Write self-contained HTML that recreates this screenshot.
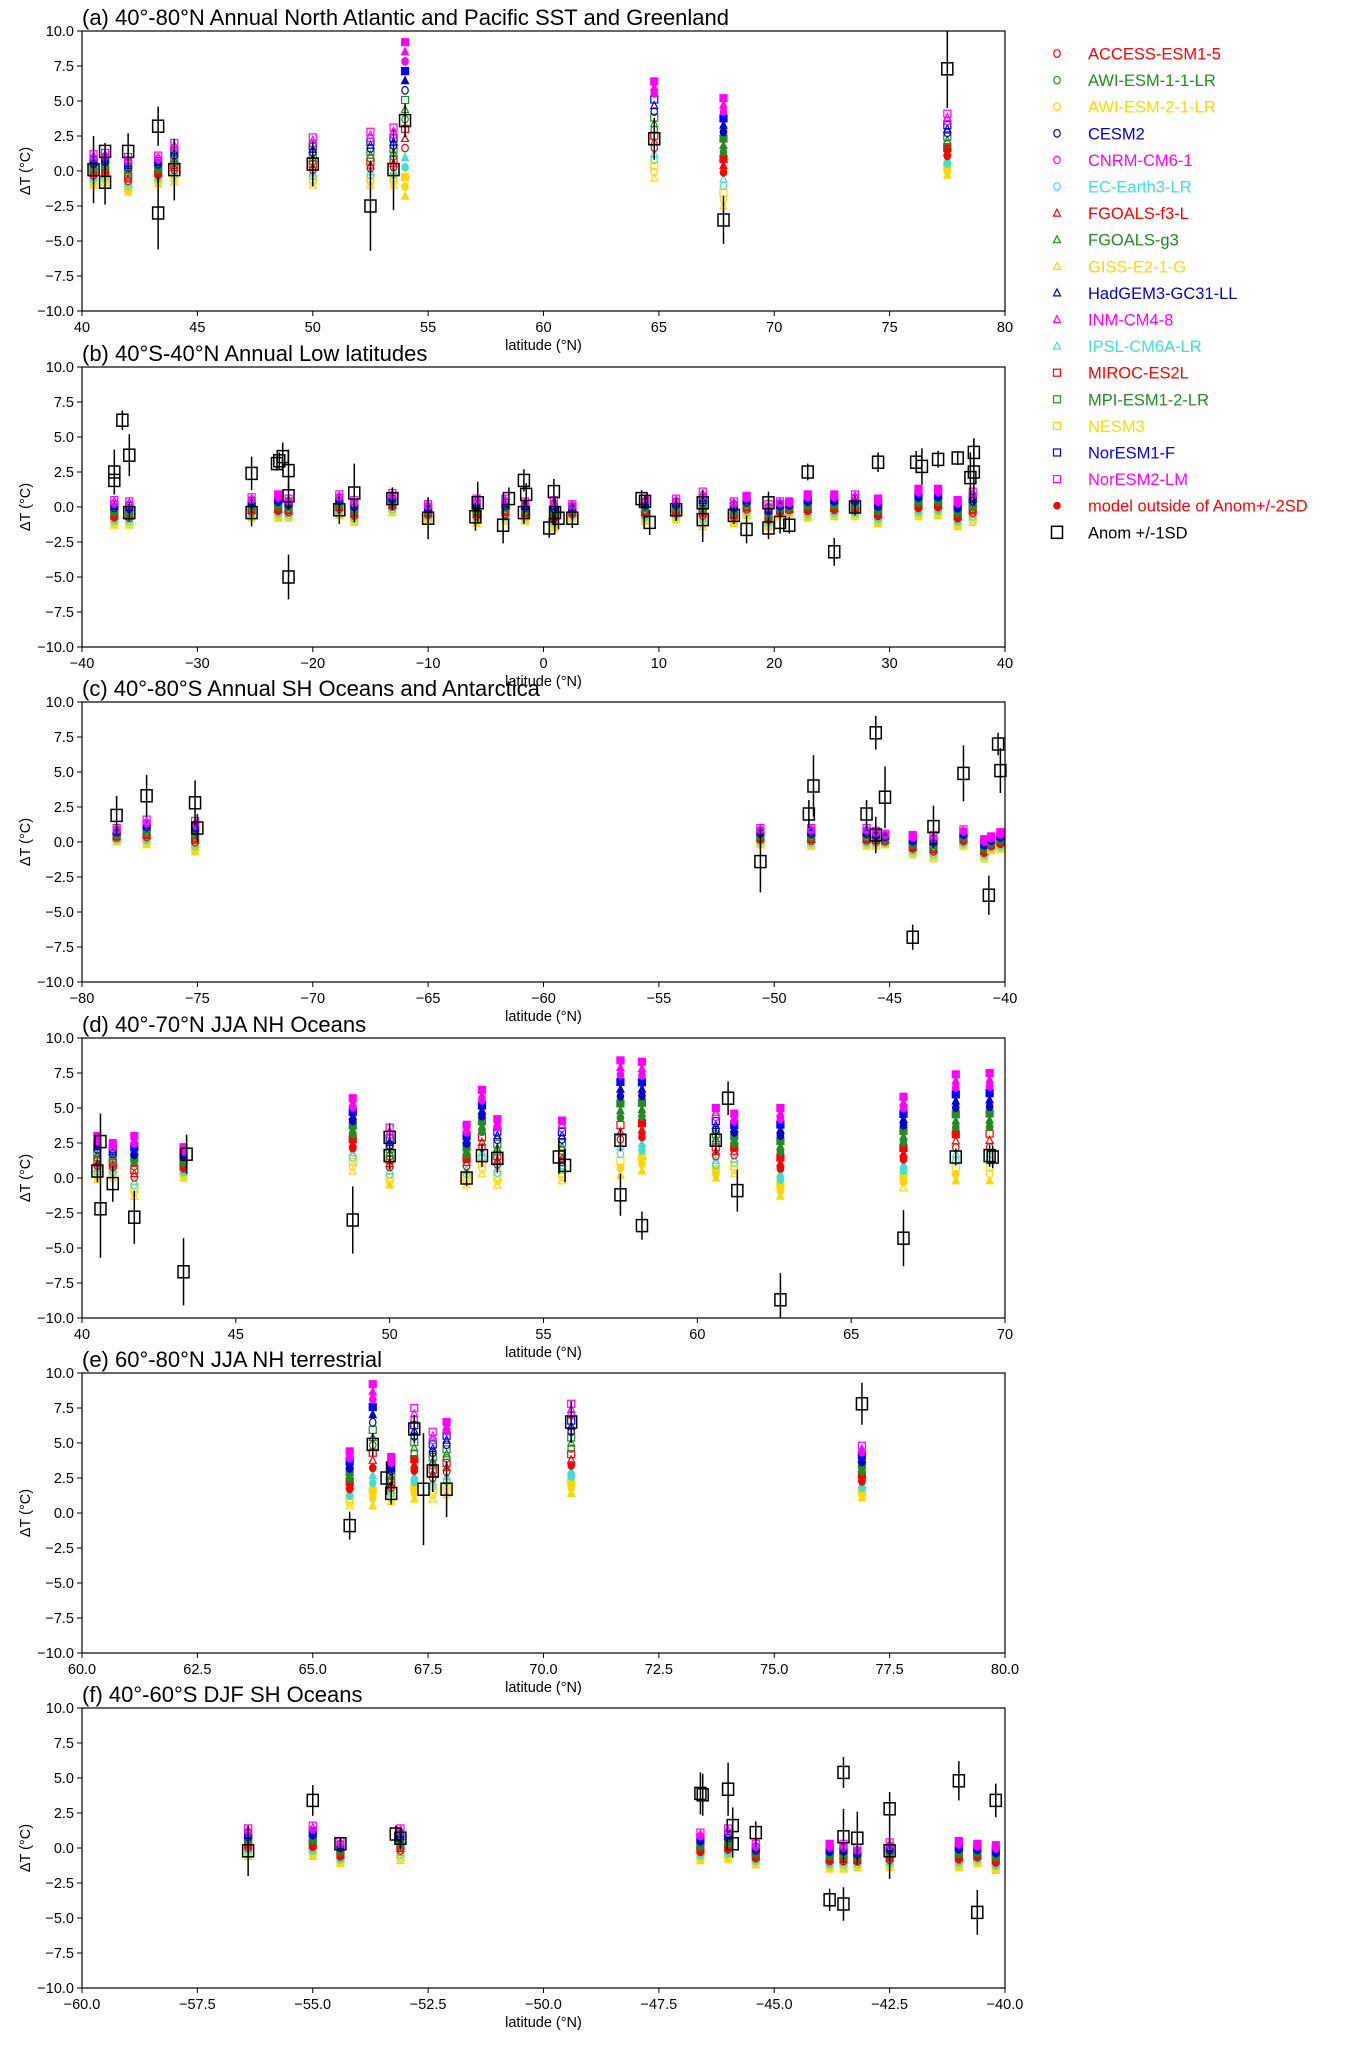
<!DOCTYPE html>
<html><head><meta charset="utf-8"><style>
body{margin:0;background:#fff;width:1355px;height:2042px;overflow:hidden}
svg{font-family:"Liberation Sans",sans-serif}
</style></head><body>
<svg id="fig" width="1355" height="2042" xmlns="http://www.w3.org/2000/svg"></svg>
<script>
// ---- data ----
const modelNames=["ACCESS-ESM1-5","AWI-ESM-1-1-LR","AWI-ESM-2-1-LR","CESM2","CNRM-CM6-1","EC-Earth3-LR","FGOALS-f3-L","FGOALS-g3","GISS-E2-1-G","HadGEM3-GC31-LL","INM-CM4-8","IPSL-CM6A-LR","MIROC-ES2L","MPI-ESM1-2-LR","NESM3","NorESM1-F","NorESM2-LM"];
const modelColors=["#ff0000","#228b22","#ffd700","#0000cd","#ff00ff","#40e0d0","#ff0000","#228b22","#ffd700","#0000cd","#ff00ff","#40e0d0","#ff0000","#228b22","#ffd700","#0000ff","#ff00ff"];
const modelShapes=["o","o","o","o","o","o","t","t","t","t","t","t","s","s","s","s","s"];
const panelTitles=["(a) 40°-80°N Annual North Atlantic and Pacific SST and Greenland","(b) 40°S-40°N Annual Low latitudes","(c) 40°-80°S Annual SH Oceans and Antarctica","(d) 40°-70°N JJA NH Oceans","(e) 60°-80°N JJA NH terrestrial","(f) 40°-60°S DJF SH Oceans"];
const panelXmin=[40,-40,-80,40,60,-60];
const panelXmax=[80,40,-40,70,80,-40];
const panelXstep=[5,10,5,5,2.5,2.5];
const yTicks=[-10,-7.5,-5,-2.5,0,2.5,5,7.5,10];
// proxies: [lat, anom, sd]
const proxA=[[40.5,0.1,2.4],[41.0,1.4,0.6],[41.0,-0.8,1.6],[42.0,1.4,1.3],[43.3,3.2,1.4],[43.3,-3.0,2.6],[44.0,0.1,2.2],[50.0,0.5,1.6],[52.5,-2.5,3.2],[53.5,0.1,2.9],[54.0,3.6,1.2],[64.8,2.3,1.5],[67.8,-3.5,1.7],[77.5,7.3,2.8]];
const modA=[[40.5,-1.0,1.2],[41.0,-0.8,1.3],[42.0,-1.5,1.0],[43.3,-0.9,1.1],[44.0,-0.8,2.0],[50.0,-1.0,2.4],[52.5,-1.0,2.8],[53.5,-1.0,3.1],[54.0,-1.8,9.2],[64.8,-0.5,6.4],[67.8,-2.5,5.2],[77.5,-0.3,4.1]];
const proxB=[[-37.2,2.5,1.6],[-37.2,1.9,1.0],[-36.5,6.2,0.7],[-35.9,3.7,1.5],[-35.9,-0.4,0.6],[-25.3,2.4,1.2],[-25.3,-0.4,1.0],[-23.1,3.1,0.5],[-22.9,3.3,0.6],[-22.6,3.6,1.0],[-22.1,2.6,1.5],[-22.1,0.8,1.0],[-22.1,-5.0,1.6],[-17.7,-0.2,1.0],[-16.4,1.0,2.1],[-13.1,0.6,0.8],[-10.0,-0.8,1.5],[-5.9,-0.7,1.0],[-5.7,0.3,1.5],[-3.5,-1.3,1.3],[-3.0,0.6,0.8],[-1.7,1.9,0.8],[-1.5,0.9,0.8],[-1.7,-0.4,0.8],[0.5,-1.5,0.7],[0.9,1.1,0.9],[1.3,-0.8,0.8],[1.0,-0.4,1.0],[2.5,-0.8,0.7],[8.5,0.6,0.6],[8.8,0.4,0.5],[9.2,-1.1,0.9],[11.5,-0.2,0.8],[13.8,0.3,0.9],[13.8,-0.9,1.6],[16.5,-0.6,0.6],[17.6,-1.6,1.0],[19.5,0.3,0.8],[19.5,-1.5,0.8],[20.5,-1.1,0.8],[21.3,-1.3,0.6],[22.9,2.5,0.6],[25.2,-3.2,1.0],[27.0,0.0,0.6],[29.0,3.2,0.7],[32.3,3.2,0.8],[32.8,2.9,1.3],[34.2,3.4,0.6],[35.9,3.5,0.5],[37.0,2.1,1.8],[37.3,3.9,1.0],[37.3,2.5,2.4]];
const modB=[[-37.2,-1.3,0.5],[-35.9,-1.3,0.4],[-25.3,-0.8,0.7],[-23.0,-0.8,0.9],[-22.1,-0.8,0.6],[-17.7,-0.6,0.9],[-16.4,-1.1,0.5],[-13.1,-0.4,1.0],[-10.0,-0.9,0.2],[-5.8,-1.2,0.6],[-3.3,-1.0,0.6],[-1.6,-1.0,0.4],[0.9,-1.5,0.5],[2.5,-0.8,0.2],[8.8,-1.0,0.6],[11.5,-0.9,0.6],[13.8,-1.4,1.1],[16.5,-1.2,0.4],[17.6,-0.6,0.8],[19.5,-1.4,0.2],[20.5,-0.7,0.4],[21.3,-0.5,0.4],[22.9,-0.8,0.9],[25.2,-0.7,0.9],[27.0,-0.7,0.9],[29.0,-1.2,0.6],[32.5,-0.7,1.3],[34.2,-0.6,1.3],[35.9,-1.4,0.5],[37.2,-1.1,1.1]];
const proxC=[[-78.5,1.9,1.4],[-77.2,3.3,1.5],[-75.1,2.8,1.6],[-75.0,1.0,1.0],[-50.6,-1.4,2.2],[-48.5,2.0,1.0],[-48.3,4.0,2.2],[-46.0,2.0,1.0],[-45.6,7.8,1.2],[-45.6,0.5,1.3],[-45.2,3.2,2.2],[-44.0,-6.8,0.9],[-43.1,1.1,1.5],[-41.8,4.9,2.0],[-40.7,-3.8,1.4],[-40.3,7.0,0.8],[-40.2,5.1,1.6]];
const modC=[[-78.5,0.0,1.0],[-77.2,-0.2,1.6],[-75.1,-0.7,1.5],[-50.6,-0.2,1.0],[-48.4,-0.3,1.0],[-46.0,-0.3,1.0],[-45.6,-0.3,0.8],[-45.2,-0.2,0.6],[-44.0,-0.9,0.5],[-43.1,-1.2,0.5],[-41.8,-0.3,0.9],[-40.9,-1.2,0.2],[-40.6,-0.6,0.4],[-40.2,-0.5,0.7]];
const proxD=[[40.6,2.6,2.0],[40.6,-2.2,3.5],[40.5,0.5,0.8],[41.0,-0.4,1.3],[41.7,-2.8,1.9],[43.3,-6.7,2.4],[43.4,1.7,1.4],[48.8,-3.0,2.4],[50.0,2.9,1.0],[50.0,1.6,1.0],[52.5,0.0,0.6],[53.0,1.6,0.8],[53.5,1.4,1.0],[55.5,1.5,1.2],[55.7,0.9,1.2],[57.5,2.7,0.8],[57.5,-1.2,1.5],[58.2,-3.4,1.0],[60.6,2.7,1.0],[61.0,5.7,1.2],[61.3,-0.9,1.5],[62.7,-8.7,1.9],[66.7,-4.3,2.0],[68.4,1.5,0.6],[69.5,1.6,0.8],[69.6,1.5,0.8]];
const modD=[[40.5,-0.1,3.0],[41.0,0.0,2.5],[41.7,-1.3,3.0],[43.3,0.0,2.2],[48.8,0.5,5.7],[50.0,-0.5,3.6],[52.5,-0.5,3.8],[53.0,0.3,6.3],[53.5,-0.5,4.2],[55.6,-0.2,4.1],[57.5,0.2,8.4],[58.2,0.5,8.3],[60.6,0.0,5.0],[61.2,0.3,4.6],[62.7,-1.3,5.0],[66.7,-0.7,5.8],[68.4,-0.2,7.4],[69.5,-0.2,7.5]];
const proxE=[[65.8,-0.9,1.0],[66.3,4.9,0.8],[66.6,2.5,1.2],[66.7,1.4,0.8],[67.2,6.0,1.0],[67.4,1.7,4.0],[67.6,3.0,1.5],[67.9,1.7,2.0],[70.6,6.5,1.5],[76.9,7.8,1.5]];
const modE=[[65.8,0.5,4.4],[66.3,0.5,9.2],[66.7,0.8,4.0],[67.2,1.0,7.5],[67.6,1.0,5.8],[67.9,1.3,6.5],[70.6,1.4,7.8],[76.9,1.1,4.8]];
const proxF=[[-56.4,-0.2,1.8],[-55.0,3.4,1.1],[-54.4,0.3,0.4],[-53.2,1.0,0.6],[-53.1,0.7,0.8],[-46.6,3.9,1.5],[-46.55,3.8,1.5],[-46.0,4.2,1.9],[-45.9,1.6,1.3],[-45.9,0.3,1.0],[-45.4,1.1,0.8],[-43.8,-3.7,0.8],[-43.5,5.4,1.1],[-43.5,0.8,2.0],[-43.5,-4.0,1.2],[-43.2,0.7,1.9],[-42.5,2.8,1.2],[-42.5,-0.2,2.0],[-41.0,4.8,1.4],[-40.6,-4.6,1.6],[-40.2,3.4,1.2]];
const modF=[[-56.4,-0.6,1.4],[-55.0,-0.6,1.6],[-54.4,-1.1,0.5],[-53.1,-0.9,1.4],[-46.6,-0.9,1.1],[-46.0,-0.8,1.4],[-45.4,-1.2,0.3],[-43.8,-1.5,0.3],[-43.5,-1.5,0.3],[-43.2,-1.4,0.0],[-42.5,-1.4,0.4],[-41.0,-1.4,0.5],[-40.6,-1.1,0.3],[-40.2,-1.6,0.2]];
const panelProx=[proxA,proxB,proxC,proxD,proxE,proxF];
const panelMod=[modA,modB,modC,modD,modE,modF];
// ---- layout ----
const NS="http://www.w3.org/2000/svg";
const svg=document.getElementById('fig');
const AX_L=82,AX_R=1005,AX_H=280;
const panelTops=[31,367,702,1038,1373,1708];
const panelNames=['panel-a','panel-b','panel-c','panel-d','panel-e','panel-f'];
const order=[8,2,14,5,11,0,6,12,1,7,13,3,9,15,4,10,16];
function mk(tag,attrs,parent){const e=document.createElementNS(NS,tag);for(const k in attrs)e.setAttribute(k,attrs[k]);(parent||svg).appendChild(e);return e;}
function fmt(v,dec){let s=dec?v.toFixed(1):String(Math.round(v));return s.replace('-','\u2212');}
function marker(g,shape,x,y,col,filled){
  const f=filled?col:'none';let e;
  if(shape==='o')e=mk('ellipse',{cx:x,cy:y,rx:3.2,ry:3.8,fill:f,stroke:col,'stroke-width':1.2},g);
  else if(shape==='t')e=mk('polygon',{points:`${x},${y-4} ${x-3.5},${y+3} ${x+3.5},${y+3}`,fill:f,stroke:col,'stroke-width':1.2},g);
  else e=mk('rect',{x:x-3.5,y:y-3.5,width:7,height:7,fill:f,stroke:col,'stroke-width':1.2},g);
  return e;
}
panelTops.forEach((top,p)=>{
  const g=mk('g',{});
  
  
  const xmin=panelXmin[p],xmax=panelXmax[p];
  const sx=v=>AX_L+(v-xmin)/(xmax-xmin)*(AX_R-AX_L);
  const sy=v=>top+(10-v)/20*AX_H;
  const t=mk('text',{x:AX_L,y:top-6,'font-size':22,fill:'#000'},g);t.textContent=panelTitles[p];
  
  
  yTicks.forEach(v=>{const y=sy(v);mk('line',{x1:AX_L-5,x2:AX_L,y1:y,y2:y,stroke:'#000','stroke-width':1},g);
    const l=mk('text',{x:AX_L-8,y:y+5,'font-size':14.5,'text-anchor':'end'},g);l.textContent=fmt(v,true);
    
    });
  const dec=panelXstep[p]%1!==0;
  for(let v=xmin;v<=xmax+1e-9;v+=panelXstep[p]){const x=sx(v);mk('line',{x1:x,x2:x,y1:top+AX_H,y2:top+AX_H+5,stroke:'#000','stroke-width':1},g);
    const l=mk('text',{x:x,y:top+AX_H+21,'font-size':14.5,'text-anchor':'middle'},g);l.textContent=fmt(v,dec);
    
    }
  const xl=mk('text',{x:(AX_L+AX_R)/2,y:top+AX_H+39,'font-size':14.5,'text-anchor':'middle'},g);xl.textContent='latitude (°N)';
  
  
  const yl=mk('text',{x:0,y:0,'font-size':14.5,'text-anchor':'middle',transform:`translate(30,${top+AX_H/2}) rotate(-90)`},g);yl.textContent='ΔT (°C)';
  
  
  const prox=panelProx[p];
  panelMod[p].forEach(m=>{
    const [lat,lo,hi]=m;
    let near=prox[0],bd=1e9;prox.forEach(q=>{const d=Math.abs(q[0]-lat)+Math.abs(q[1]-(lo+hi)/2)*0.01;if(d<bd){bd=d;near=q;}});
    order.forEach((mi,k)=>{
      const v=lo+(hi-lo)*k/(order.length-1);
      const out=Math.abs(v-near[1])>2*near[2];
      const e=marker(g,modelShapes[mi],sx(lat),sy(v),modelColors[mi],out);
      
      
    });
  });
  prox.forEach(q=>{
    const x=sx(q[0]);
    const eb=mk('line',{x1:x,x2:x,y1:Math.max(top,sy(q[1]+q[2])),y2:Math.min(top+AX_H,sy(q[1]-q[2])),stroke:'#000','stroke-width':1.5},g);
    
    
    const b=mk('rect',{x:x-5.5,y:sy(q[1])-6,width:11,height:12,fill:'none',stroke:'#000','stroke-width':1.5},g);
    
    
  });
  const fr=mk('rect',{x:AX_L,y:top,width:AX_R-AX_L,height:AX_H,fill:'none',stroke:'#000','stroke-width':1.2},g);
  
  
});
// legend
const lg=mk('g',{});


const LX=1057,LY=53.5,LS=26.6;
modelNames.forEach((n,i)=>{
  const y=LY+i*LS;
  const e=marker(lg,modelShapes[i],LX,y,modelColors[i],false);
  
  
  const t=mk('text',{x:1088,y:y+6,'font-size':16.5,fill:modelColors[i]},lg);t.textContent=n;
  
  
});
{const y=LY+17*LS;const c=mk('circle',{cx:LX,cy:y,r:3.8,fill:'#ff0000'},lg);


const t=mk('text',{x:1088,y:y+6,'font-size':16.5,fill:'#ff0000'},lg);t.textContent='model outside of Anom+/-2SD';

}
{const y=LY+18*LS;
const r=mk('rect',{x:LX-5.5,y:y-6,width:11,height:12,fill:'none',stroke:'#000','stroke-width':1.5},lg);


const t=mk('text',{x:1088,y:y+6,'font-size':16.5,fill:'#000'},lg);t.textContent='Anom +/-1SD';

}
</script>
</body></html>
